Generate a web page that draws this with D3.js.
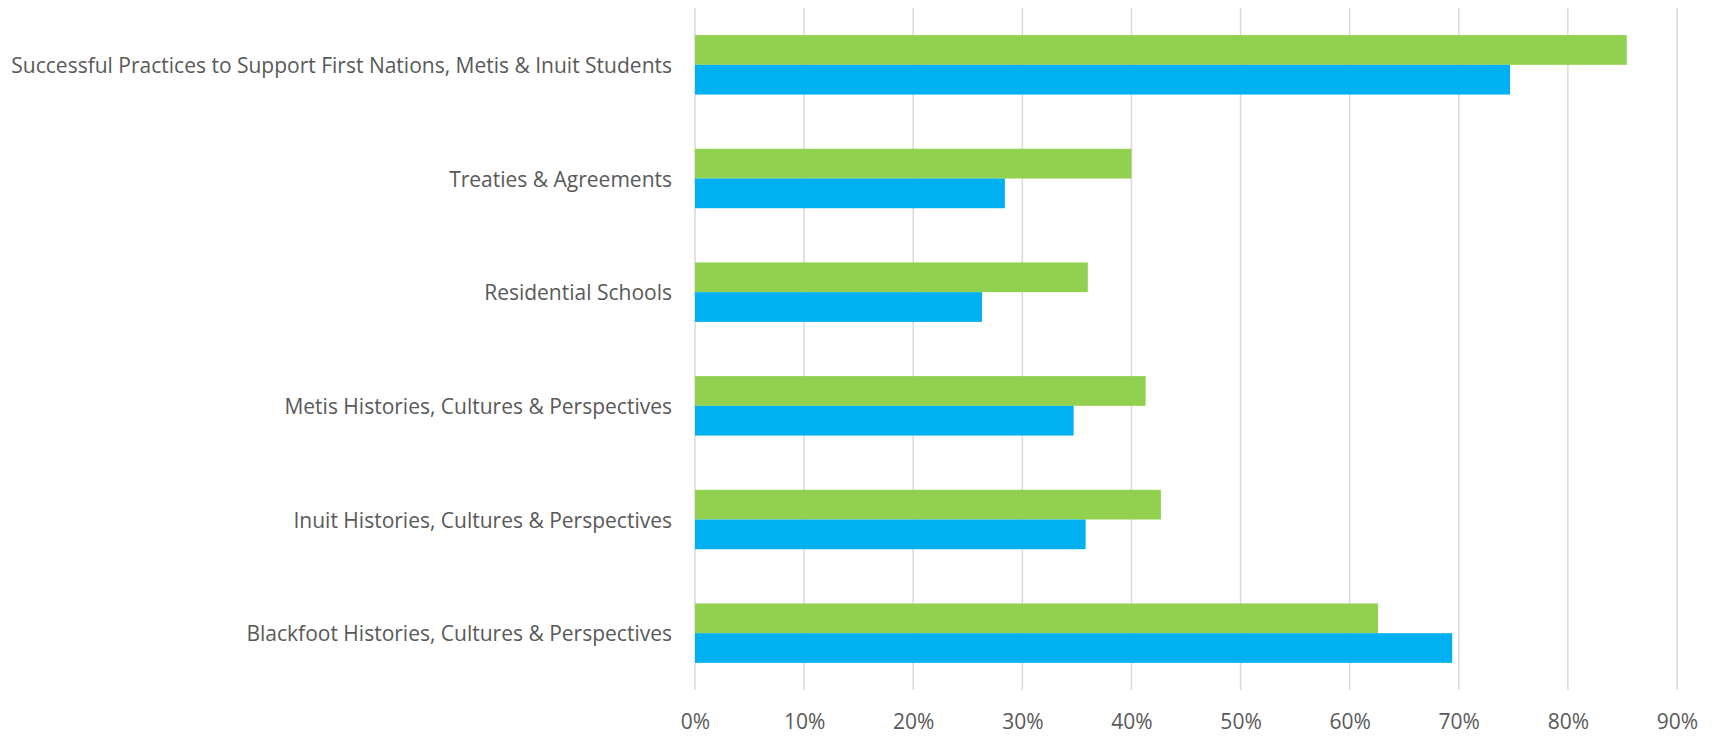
<!DOCTYPE html>
<html>
<head>
<meta charset="utf-8">
<script src="https://cdn.jsdelivr.net/npm/d3@7"></script>
<style>
  html, body { margin: 0; padding: 0; background: #fff; }
  svg { display: block; }
  text { font-family: "Open Sans", "Noto Sans", sans-serif; fill: #595959; }
</style>
</head>
<body>
<svg id="chart" width="1724" height="747"></svg>
<script>
const categories = [
  "Successful Practices to Support First Nations, Metis & Inuit Students",
  "Treaties & Agreements",
  "Residential Schools",
  "Metis Histories, Cultures & Perspectives",
  "Inuit Histories, Cultures & Perspectives",
  "Blackfoot Histories, Cultures & Perspectives"
];
const seriesNames = ["Series A", "Series B"];
const greenValues = [0.854, 0.400, 0.360, 0.413, 0.427, 0.626];
const blueValues  = [0.747, 0.284, 0.263, 0.347, 0.358, 0.694];
const tickValues  = [0, 0.1, 0.2, 0.3, 0.4, 0.5, 0.6, 0.7, 0.8, 0.9];
const colors = ["#92D050", "#00B0F0"];

const svg = d3.select("#chart");
const mLeft = 695, mRight = 1677, mTop = 8, mBottom = 690;

const x = d3.scaleLinear().domain([0, 0.9]).range([mLeft, mRight]);
const pad = 0.477;
const y = d3.scaleBand().domain(categories).range([mTop, mBottom])
  .paddingInner(pad).paddingOuter(pad / 2);
const yInner = d3.scaleBand().domain(seriesNames).range([0, y.bandwidth()]);

// gridlines
svg.append("g").selectAll("line").data(tickValues).join("line")
  .attr("x1", d => x(d)).attr("x2", d => x(d))
  .attr("y1", mTop).attr("y2", mBottom)
  .attr("stroke", "#D9D9D9").attr("stroke-width", 1.5);

const data = categories.map((c, i) => ({ c, vals: [greenValues[i], blueValues[i]] }));

const groups = svg.append("g").selectAll("g").data(data).join("g")
  .attr("transform", d => `translate(0,${y(d.c)})`);
groups.selectAll("rect").data(d => d.vals.map((v, j) => ({ v, s: seriesNames[j], j })))
  .join("rect")
  .attr("x", x(0))
  .attr("y", d => yInner(d.s))
  .attr("width", d => x(d.v) - x(0))
  .attr("height", yInner.bandwidth())
  .attr("fill", d => colors[d.j]);

// category labels
const labels = svg.append("g").selectAll("text").data(categories).join("text")
  .attr("x", 672)
  .attr("y", d => y(d) + y.bandwidth() / 2)
  .attr("text-anchor", "end")
  .attr("dominant-baseline", "central")
  .style("font-size", "18px")
  .text(d => d);

// fit font size so the longest label is ~661px wide
const w = labels.nodes()[0].getComputedTextLength();
const fs = 18 * 661 / w;
labels.style("font-size", fs + "px");

// x axis tick labels
const xAxis = d3.axisBottom(x).tickValues(tickValues).tickFormat(d3.format(".0%")).tickSize(0).tickPadding(0);
const ax = svg.append("g").attr("transform", `translate(0,${721})`).call(xAxis);
ax.select(".domain").remove();
ax.selectAll("text")
  .attr("dy", null).attr("y", 0)
  .attr("dominant-baseline", "central")
  .style("font-size", fs + "px")
  .style("font-family", "'Open Sans', 'Noto Sans', sans-serif")
  .attr("fill", "#595959");
</script>
</body>
</html>
